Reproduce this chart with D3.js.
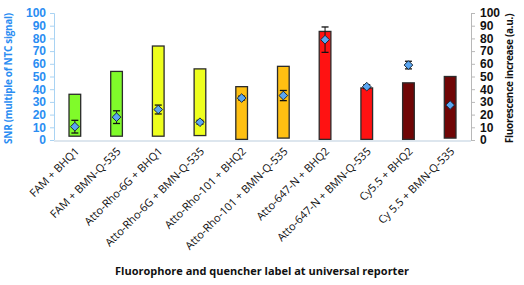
<!DOCTYPE html>
<html>
<head>
<meta charset="utf-8">
<script src="https://cdn.jsdelivr.net/npm/d3@7"></script>
<style>
  body { margin: 0; background: #fff; }
  svg { font-family: "Open Sans", "Liberation Sans", sans-serif; }
</style>
</head>
<body>
<svg id="chart" width="524" height="285"></svg>
<script>
// categories along the bottom
var labels = ["FAM + BHQ1", "FAM + BMN-Q-535", "Atto-Rho-6G + BHQ1", "Atto-Rho-6G + BMN-Q-535",
  "Atto-Rho-101 + BHQ2", "Atto-Rho-101 + BMN-Q-535", "Atto-647-N + BHQ2", "Atto-647-N + BMN-Q-535",
  "Cy5.5 + BHQ2", "Cy 5.5 + BMN-Q-535"];

// SNR floating bars (left axis): bottom and top
var snrLow  = [3, 3, 3, 3.5, 0.5, 1.5, 0.5, 0.5, 0.5, 1.5];
var snrHigh = [36, 54, 74, 56, 42, 58, 85.5, 41, 45, 50];
var barColors = ["#80fb2a", "#80fb2a", "#eeff1e", "#eeff1e", "#ffc012", "#ffc012",
  "#ff1212", "#ff1212", "#700606", "#700606"];

// fluorescence increase (right axis) with error
var fluo    = [10.5, 18, 24, 14, 33, 35, 79, 42, 59, 27.5];
var fluoErr = [5, 5, 3.5, 1.5, 1.5, 4, 10, 1.5, 3, 1];

var ticks = [0, 10, 20, 30, 40, 50, 60, 70, 80, 90, 100];

var margin = {top: 13, right: 53, bottom: 145, left: 54},
    width = 524 - margin.left - margin.right,
    height = 285 - margin.top - margin.bottom;

var svg = d3.select("#chart");
var g = svg.append("g").attr("transform", "translate(" + margin.left + "," + margin.top + ")");

var x = d3.scaleBand().domain(labels).range([0, width]).paddingInner(0.72).paddingOuter(0.36);
var yL = d3.scaleLinear().domain([0, 100]).range([height, 0]);
var yR = d3.scaleLinear().domain([0, 100]).range([height, 0]);

// left axis
var axL = g.append("g").call(d3.axisLeft(yL).tickValues(ticks).tickSize(4).tickPadding(4));
axL.select(".domain").attr("stroke", "#a9d3f3");
axL.selectAll(".tick line").attr("stroke", "#a9d3f3");
axL.selectAll("text").attr("fill", "#2a8df2").style("font-size", "12px").style("font-weight", "bold");

// right axis
var axR = g.append("g").attr("transform", "translate(" + width + ",0)")
  .call(d3.axisRight(yR).tickValues(ticks).tickSize(4).tickPadding(5));
axR.select(".domain").attr("stroke", "#b8b8b8");
axR.selectAll(".tick line").attr("stroke", "#b8b8b8");
axR.selectAll("text").attr("fill", "#111").style("font-size", "12px").style("font-weight", "bold");

// bottom line
g.append("line")
  .attr("x1", 0).attr("x2", width)
  .attr("y1", yL(0) + 1).attr("y2", yL(0) + 1)
  .attr("stroke", "#dde6ee").attr("stroke-width", 2);

// floating bars
g.selectAll(".bar").data(labels).enter().append("rect")
  .attr("class", "bar")
  .attr("x", function(d) { return x(d); })
  .attr("width", x.bandwidth())
  .attr("y", function(d, i) { return yL(snrHigh[i]); })
  .attr("height", function(d, i) { return yL(snrLow[i]) - yL(snrHigh[i]); })
  .attr("fill", function(d, i) { return barColors[i]; })
  .attr("stroke", "#2b2b2b")
  .attr("stroke-width", 1.3);

// error bars
var cx = function(d) { return x(d) + x.bandwidth() / 2; };
var err = g.selectAll(".err").data(labels).enter().append("g").attr("class", "err");
err.append("line")
  .attr("x1", cx).attr("x2", cx)
  .attr("y1", function(d, i) { return yR(fluo[i] + fluoErr[i]); })
  .attr("y2", function(d, i) { return yR(fluo[i] - fluoErr[i]); })
  .attr("stroke", "#111").attr("stroke-width", 1);
[1, -1].forEach(function(s) {
  err.append("line")
    .attr("x1", function(d) { return cx(d) - 3.5; })
    .attr("x2", function(d) { return cx(d) + 3.5; })
    .attr("y1", function(d, i) { return yR(fluo[i] + s * fluoErr[i]); })
    .attr("y2", function(d, i) { return yR(fluo[i] + s * fluoErr[i]); })
    .attr("stroke", "#111").attr("stroke-width", 1.3);
});

// diamonds
g.selectAll(".pt").data(labels).enter().append("path")
  .attr("class", "pt")
  .attr("d", d3.symbol().type(d3.symbolDiamond2).size(48))
  .attr("transform", function(d, i) { return "translate(" + cx(d) + "," + yR(fluo[i]) + ")"; })
  .attr("fill", "#5aa6f2")
  .attr("stroke", "#1b2a3a")
  .attr("stroke-width", 1);

// category labels
g.selectAll(".xl").data(labels).enter().append("text")
  .attr("class", "xl")
  .attr("transform", function(d) { return "translate(" + (cx(d) + 5) + "," + (height + 12) + ") rotate(-45)"; })
  .attr("text-anchor", "end")
  .style("font-size", "11px")
  .attr("fill", "#111")
  .text(function(d) { return d; });

// axis titles
svg.append("text")
  .attr("transform", "translate(12," + (margin.top + height / 2 + 2) + ") rotate(-90)")
  .attr("text-anchor", "middle")
  .style("font-size", "10px").style("font-weight", "bold").style("letter-spacing", "-0.3px")
  .attr("fill", "#2a8df2")
  .text("SNR (multiple of  NTC signal)");

svg.append("text")
  .attr("transform", "translate(513," + (margin.top + height / 2 + 2) + ") rotate(-90)")
  .attr("text-anchor", "middle")
  .style("font-size", "10px").style("font-weight", "bold").style("letter-spacing", "-0.3px")
  .attr("fill", "#111")
  .text("Fluorescence  increase  (a.u.)");

svg.append("text")
  .attr("x", 262).attr("y", 275)
  .attr("text-anchor", "middle")
  .style("font-size", "11px").style("font-weight", "bold")
  .attr("fill", "#111")
  .text("Fluorophore and quencher label at universal reporter");
</script>
</body>
</html>
